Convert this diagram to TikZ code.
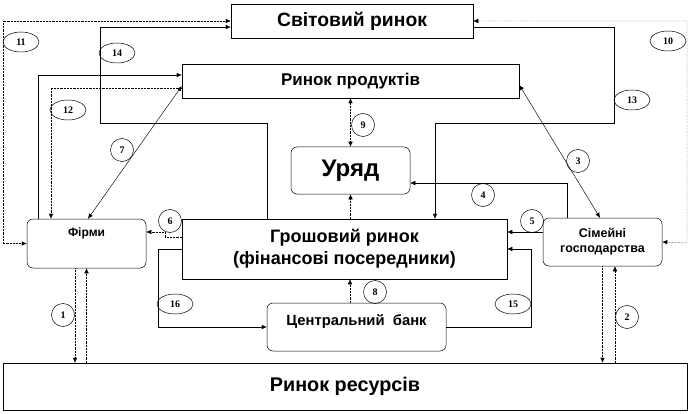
\documentclass[tikz,border=0pt]{standalone}
\usepackage{fontspec}
\setmainfont{Liberation Sans}
\newfontfamily\numfont{Liberation Serif}
\usetikzlibrary{arrows.meta,shapes.geometric}
\begin{document}
\begin{tikzpicture}[x=1pt,y=-1pt,
  box/.style={draw, line width=0.5pt, inner sep=0pt, align=center},
  rbox/.style={box, rounded corners=6pt},
  conn/.style={line width=0.45pt},
  tip/.tip={Latex[length=5pt,width=4.5pt]},
  arr/.style={conn, -tip},
  barr/.style={conn, tip-tip},
  dots/.style={densely dotted},
  num/.style={draw, ellipse, line width=0.5pt, inner sep=0pt, minimum width=36pt, minimum height=20pt, font=\numfont\bfseries\fontsize{10}{10}\selectfont},
  cnum/.style={num, minimum width=23pt, minimum height=23pt}]
\useasboundingbox (0,0) rectangle (690,414);

% boxes
\node[box, minimum width=242pt, minimum height=34pt, font=\bfseries\fontsize{19.3}{19}\selectfont] (world) at (352,21) {Світовий ринок};
\node[box, minimum width=337pt, minimum height=34pt, font=\bfseries\fontsize{17}{17}\selectfont] (prod) at (350.5,81) {Ринок продуктів};
\node[rbox, minimum width=119pt, minimum height=47pt, font=\bfseries\fontsize{24}{24}\selectfont] (gov) at (350.5,170.5) {Уряд};
\node[box, minimum width=325pt, minimum height=60pt, font=\bfseries\fontsize{18}{22}\selectfont] (money) at (344.5,249) {Грошовий ринок\\(фінансові посередники)};
\node[rbox, minimum width=119pt, minimum height=49pt, font=\bfseries\fontsize{12}{12}\selectfont, text height=9pt, text depth=23pt] (firms) at (86.5,243.5) {Фірми};
\node[rbox, minimum width=119pt, minimum height=48pt, font=\bfseries\fontsize{12.5}{15}\selectfont] (house) at (602.5,242) {Сімейні\\господарства};
\node[rbox, minimum width=179pt, minimum height=48pt, font=\bfseries\fontsize{14.8}{15}\selectfont, text height=10.5pt, text depth=14.5pt] (cb) at (356.5,327) {Центральний\ \ банк};
\node[box, minimum width=684pt, minimum height=47pt, font=\bfseries\fontsize{19.8}{20}\selectfont] (res) at (345,386.5) {Ринок ресурсів};

% helper coordinates
\coordinate (f1) at ([xshift=-11.5pt]firms.south);
\coordinate (h2) at ([xshift=12.5pt]house.south);
\coordinate (m13) at ([xshift=90.5pt]money.north);
\coordinate (m14) at ([xshift=-77.5pt]money.north);
\coordinate (f12a) at ([xshift=-48.5pt]firms.north);
\coordinate (f12b) at ([xshift=-35.5pt]firms.north);

% connectors
% 11
\draw[barr, dots] (firms.west) -| (3,21) -- (world.west);
% 14
\draw[arr] (m14) |- (100,123) |- ([yshift=-6pt]world.west);
% 10
\draw[barr, dots] (world.east) -| (687,243) -- (house.east);
% 13
\draw[arr] ([yshift=-6pt]world.east) -| (614,123) -| (m13);
% 12
\draw[arr] (f12a) |- ([yshift=6pt]prod.west);
\draw[arr, dots] ([yshift=-7pt]prod.west) -| (f12b);
% 7
\draw[barr] ([xshift=1.5pt]firms.north) -- ([yshift=-5pt]prod.west);
% 3
\draw[barr] ([yshift=-4pt]prod.east) -- ([xshift=-2.5pt]house.north);
% 9
\draw[barr, dots] (prod.south) -- (gov.north);
% money -> gov
\draw[arr, dots] (money.north -| gov.south) -- (gov.south);
% 4
\draw[arr] ([xshift=-35.5pt]house.north) |- ([yshift=-12.5pt]gov.east);
% 5
\draw[arr] ([yshift=10pt]house.west) -- ([yshift=17pt]money.east);
% 15
\draw[arr] (cb.east) -| ([xshift=24pt]money.east) -- (money.east);
% 16
\draw[arr] (money.west) -- ++(-24,0) |- (cb.west);
% 6
\draw[arr, dots] ([yshift=12pt]money.west) -- ++(-17,0) |- ([yshift=11.5pt]firms.east);
% 8
\draw[arr, dots] ([xshift=-6.5pt]cb.north) -- ([xshift=5.5pt]money.south);
% 1
\draw[arr, dots] (f1) -- (f1 |- res.north);
\draw[arr, dots] (res.north -| firms.south) -- (firms.south);
% 2
\draw[arr, dots] (house.south) -- (house.south |- res.north);
\draw[arr, dots] (res.north -| h2) -- (h2);

% number labels
\node[num] (n11) at (21,42) {11};
\node[num] (n14) at (117,53) {14};
\node[num] (n12) at (68,110) {12};
\node[cnum] (n7) at (122,150) {7};
\node[num] (n13) at (632,100) {13};
\node[num] (n10) at (668,41) {10};
\node[cnum] (n9) at (363,125) {9};
\node[cnum] (n3) at (578,161) {3};
\node[cnum] (n4) at (483,195) {4};
\node[cnum] (n5) at (532,221) {5};
\node[cnum] (n6) at (170,221) {6};
\node[cnum] (n1) at (63,315) {1};
\node[num] (n16) at (175,304) {16};
\node[cnum] (n8) at (375,292) {8};
\node[num] (n15) at (513,304) {15};
\node[cnum] (n2) at (627,317) {2};
\end{tikzpicture}
\end{document}
